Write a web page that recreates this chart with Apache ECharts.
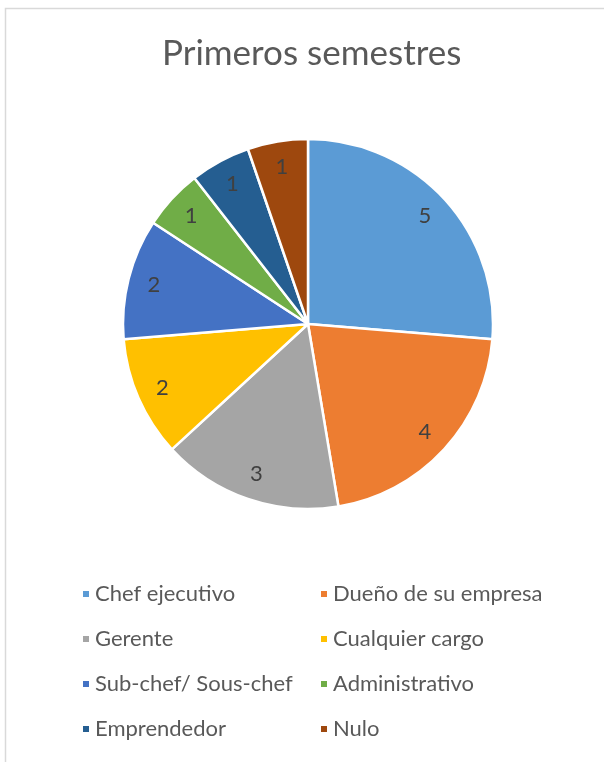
<!DOCTYPE html>
<html>
<head>
<meta charset="utf-8">
<script src="https://cdn.jsdelivr.net/npm/echarts@6/dist/echarts.min.js"></script>
<style>
  html, body { margin: 0; padding: 0; background: #fff; }
  #chart { width: 604px; height: 762px; }
</style>
</head>
<body>
<div id="chart"></div>
<script>
const categories = ['Chef ejecutivo', 'Dueño de su empresa', 'Gerente', 'Cualquier cargo',
  'Sub-chef/ Sous-chef', 'Administrativo', 'Emprendedor', 'Nulo']
const values = [5, 4, 3, 2, 2, 1, 1, 1]
const colors = ['#5b9bd5', '#ed7d31', '#a5a5a5', '#ffc000', '#4472c4', '#70ad47', '#255e91', '#9e480e']

const leftLegend = [categories[0], categories[2], categories[4], categories[6]]
const rightLegend = [categories[1], categories[3], categories[5], categories[7]]

const font = 'Lato, "Noto Sans", sans-serif'
const pieData = categories.map((name, i) => ({ name, value: values[i] }))

const chart = echarts.init(document.getElementById('chart'))

const legendBase = {
  orient: 'vertical',
  top: 583,
  padding: 0,
  icon: 'rect',
  itemWidth: 8,
  itemHeight: 8,
  itemGap: 23,
  textStyle: { fontFamily: font, fontSize: 22, color: '#595959', lineHeight: 22 },
  selectedMode: false
}

chart.setOption({
  color: colors,
  animation: false,
  title: {
    text: 'Primeros semestres',
    left: 157,
    top: 31,
    textStyle: { fontFamily: font, fontSize: 35, fontWeight: 'normal', color: '#595959' }
  },
  graphic: [{
    type: 'rect',
    shape: { x: 5.5, y: 8.5, width: 700, height: 800 },
    style: { fill: 'none', stroke: '#d9d9d9', lineWidth: 1.5 },
    silent: true
  }],
  legend: [
    Object.assign({}, legendBase, { left: 81, data: leftLegend }),
    Object.assign({}, legendBase, { left: 319, data: rightLegend })
  ],
  series: [
    {
      name: 'main',
      type: 'pie',
      center: [308, 324],
      radius: [0, 185],
      startAngle: 90,
      clockwise: true,
      label: { show: false },
      labelLine: { show: false },
      itemStyle: { borderColor: '#fff', borderWidth: 2.5 },
      emphasis: { disabled: true },
      data: pieData
    },
    {
      name: 'labels',
      type: 'pie',
      center: [308, 324],
      radius: [0, 312],
      startAngle: 90,
      clockwise: true,
      silent: true,
      itemStyle: { color: 'rgba(0,0,0,0)' },
      label: {
        show: true,
        position: 'inside',
        formatter: '{c}',
        fontFamily: font,
        fontSize: 22,
        color: '#404040'
      },
      labelLine: { show: false },
      emphasis: { disabled: true },
      data: pieData
    }
  ]
})
</script>
</body>
</html>
